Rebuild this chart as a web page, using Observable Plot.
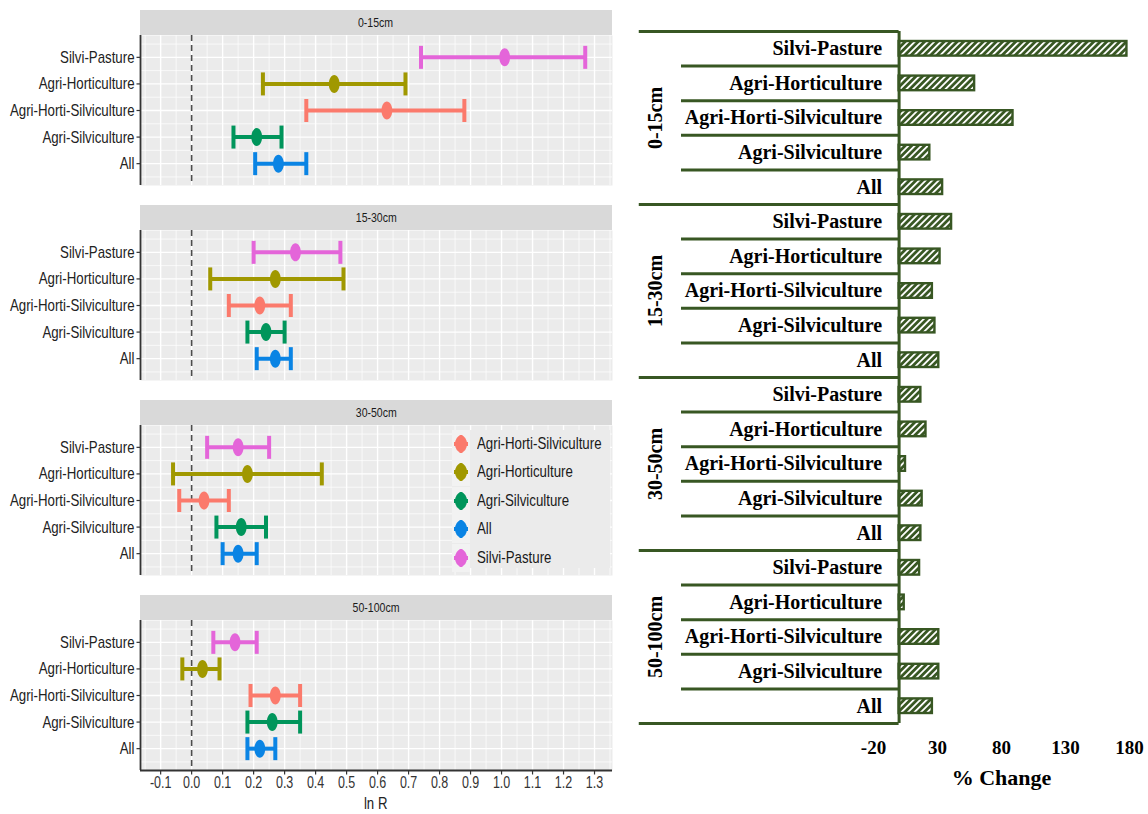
<!DOCTYPE html>
<html>
<head>
<meta charset="utf-8">
<script src="https://cdn.jsdelivr.net/npm/d3@7"></script>
<script src="https://cdn.jsdelivr.net/npm/@observablehq/plot@0.6"></script>
<style>
  body { margin: 0; background: #fff; }
  #root { position: relative; width: 1148px; height: 814px; overflow: hidden; background: #fff;
          font-family: "Liberation Sans", Arial, sans-serif; }
  .strip { position: absolute; left: 140px; width: 472px; height: 25px; background: #d9d9d9;
           color: #1a1a1a; font-size: 13.5px; text-align: center; line-height: 25px; }
  .strip span { display: inline-block; transform: scaleX(0.78); }
  .cond { display: inline-block; transform: scaleX(0.78); transform-origin: left center; }
</style>
</head>
<body>
<div id="root"></div>
<script>
// ---------------- DATA ----------------
const depths = ["0-15cm", "15-30cm", "30-50cm", "50-100cm"];
const systems = ["Silvi-Pasture", "Agri-Horticulture", "Agri-Horti-Silviculture", "Agri-Silviculture", "All"];
const legendOrder = ["Agri-Horti-Silviculture", "Agri-Horticulture", "Agri-Silviculture", "All", "Silvi-Pasture"];
const legendColors = ["#fb7a6c", "#a09800", "#00955b", "#0a84e4", "#e465d9"];

// ln R (rows: depths, columns: systems in the order above)
const lnrMean = [
  [1.01, 0.46, 0.63, 0.21, 0.28],
  [0.335, 0.27, 0.22, 0.24, 0.27],
  [0.15, 0.18, 0.04, 0.16, 0.15],
  [0.14, 0.035, 0.27, 0.26, 0.22]
];
const lnrLow = [
  [0.74, 0.23, 0.37, 0.135, 0.205],
  [0.20, 0.06, 0.12, 0.18, 0.21],
  [0.05, -0.06, -0.04, 0.08, 0.10],
  [0.07, -0.03, 0.19, 0.18, 0.18]
];
const lnrHigh = [
  [1.27, 0.69, 0.88, 0.29, 0.37],
  [0.48, 0.49, 0.32, 0.30, 0.32],
  [0.25, 0.42, 0.12, 0.24, 0.21],
  [0.21, 0.09, 0.35, 0.35, 0.27]
];
const xTicks = [-0.1, 0.0, 0.1, 0.2, 0.3, 0.4, 0.5, 0.6, 0.7, 0.8, 0.9, 1.0, 1.1, 1.2, 1.3];

// % change (rows: depths, columns: systems)
const pctChange = [
  [178, 59, 89, 24, 34],
  [41, 32, 26, 28, 31],
  [17, 21, 5, 18, 17],
  [16, 4, 31, 31, 26]
];
const pctTicks = [-20, 30, 80, 130, 180];

// ---------------- HELPERS ----------------
const root = document.getElementById("root");
function place(el, left, top) {
  el.style.position = "absolute";
  el.style.left = left + "px";
  el.style.top = top + "px";
  root.appendChild(el);
}
// narrow the glyphs of every svg text (the reference uses a condensed-looking sans)
function condense(svg, factor) {
  svg.querySelectorAll("text").forEach(t => {
    const len = t.getComputedTextLength();
    if (len > 0) {
      t.setAttribute("textLength", (len * factor).toFixed(2));
      t.setAttribute("lengthAdjust", "spacingAndGlyphs");
    }
  });
}
const vline = { draw(ctx, size) { const r = Math.sqrt(size / Math.PI); ctx.moveTo(0, -r); ctx.lineTo(0, r); } };
const hline = { draw(ctx, size) { const r = Math.sqrt(size / Math.PI); ctx.moveTo(-r, 0); ctx.lineTo(r, 0); } };
const ellipse = { draw(ctx, size) {
  const ry = Math.sqrt(size / Math.PI), rx = ry * 0.6, k = 0.5523;
  ctx.moveTo(rx, 0);
  ctx.bezierCurveTo(rx, ry * k, rx * k, ry, 0, ry);
  ctx.bezierCurveTo(-rx * k, ry, -rx, ry * k, -rx, 0);
  ctx.bezierCurveTo(-rx, -ry * k, -rx * k, -ry, 0, -ry);
  ctx.bezierCurveTo(rx * k, -ry, rx, -ry * k, rx, 0);
  ctx.closePath();
} };

// ---------------- LEFT: forest plot facets ----------------
const xDomain = [-0.165, 1.358];
const yDom = [-0.822, 4.822];
const yIdx = systems.map((s, j) => j);
const minorX = [xTicks[0] - 0.05, ...xTicks.map(t => t + 0.05)];
const minorY = [-0.5, ...yIdx.map(j => j + 0.5)];

function facet(k, last) {
  const data = systems.map((s, j) => ({ system: s, j, mean: lnrMean[k][j], lo: lnrLow[k][j], hi: lnrHigh[k][j] }));
  const mb = last ? 44 : 0;
  return Plot.plot({
    width: 612, height: 150 + mb,
    marginLeft: 140, marginRight: 0, marginTop: 0, marginBottom: mb,
    style: { fontFamily: '"Liberation Sans", Arial, sans-serif', fontSize: "16px", color: "#333",
             background: "transparent", overflow: "visible" },
    x: { domain: xDomain, axis: null },
    y: { domain: yDom, reverse: true, axis: null },
    color: { domain: legendOrder, range: legendColors },
    marks: [
      Plot.frame({ fill: "#ebebeb", stroke: "none" }),
      Plot.ruleX(minorX, { stroke: "#fff", strokeWidth: 0.7 }),
      Plot.ruleX(xTicks, { stroke: "#fff", strokeWidth: 1.4 }),
      Plot.ruleY(minorY, { stroke: "#fff", strokeWidth: 0.7 }),
      Plot.ruleY(yIdx, { stroke: "#fff", strokeWidth: 1.4 }),
      Plot.ruleX([0], { stroke: "#4d4d4d", strokeWidth: 1.6, strokeDasharray: "6,4" }),
      Plot.ruleY(data, { y: "j", x1: "lo", x2: "hi", stroke: "system", strokeWidth: 4 }),
      Plot.dot(data, { x: "lo", y: "j", symbol: vline, r: 11.5, stroke: "system", strokeWidth: 4, fill: "none" }),
      Plot.dot(data, { x: "hi", y: "j", symbol: vline, r: 11.5, stroke: "system", strokeWidth: 4, fill: "none" }),
      Plot.dot(data, { x: "mean", y: "j", symbol: ellipse, r: 9, fill: "system", stroke: "none" }),
      Plot.ruleX([xDomain[0]], { stroke: "#333", strokeWidth: 1.8 }),
      last ? Plot.ruleY([yDom[1]], { stroke: "#333", strokeWidth: 1.8 }) : null,
      last ? Plot.dot(xTicks, { x: d => d, frameAnchor: "bottom", symbol: vline, r: 2, dy: 2, stroke: "#333", strokeWidth: 1.2 }) : null,
      last ? Plot.text(xTicks, { x: d => d, frameAnchor: "bottom", dy: 6, lineAnchor: "top", text: d => d.toFixed(1),
                                 fontSize: 16, fill: "#333" }) : null,
      Plot.dot(data, { frameAnchor: "left", y: "j", symbol: hline, r: 2, dx: -2, stroke: "#333", strokeWidth: 1.2 }),
      Plot.text(data, { frameAnchor: "left", y: "j", text: "system", textAnchor: "end", dx: -6,
                        fontSize: 17, fill: "#222" })
    ]
  });
}

depths.forEach((d, k) => {
  const top = 10 + k * 195;
  const strip = document.createElement("div");
  strip.className = "strip";
  strip.style.top = top + "px";
  strip.innerHTML = `<span>${d}</span>`;
  root.appendChild(strip);
  const svg = facet(k, k === depths.length - 1);
  place(svg, 0, top + 25);
  condense(svg, 0.78);
});

const lnR = document.createElement("div");
lnR.innerHTML = '<span style="display:inline-block;transform:scaleX(0.8)">ln R</span>';
lnR.style.cssText = "width:472px;text-align:center;font-size:16.5px;color:#222;";
place(lnR, 140, 794);

// legend (inside the 30-50cm panel)
const legend = document.createElement("div");
legend.style.cssText = "width:158px;height:138px;background:#ebebeb;";
place(legend, 452, 430);
legendOrder.forEach((name, i) => {
  const row = document.createElement("div");
  row.style.cssText = `position:absolute;left:0;top:${i * 28.4}px;height:28px;display:flex;align-items:center;white-space:nowrap;`;
  const c = legendColors[i];
  row.innerHTML = `<svg width="18" height="28" style="background:#f2f2f2"><line x1="2" x2="16" y1="14" y2="14" stroke="${c}" stroke-width="4"/><line x1="9" x2="9" y1="5" y2="23" stroke="${c}" stroke-width="3"/><ellipse cx="9" cy="14" rx="6" ry="8.5" fill="${c}"/></svg><span class="cond" style="margin-left:7px;font-size:17px;color:#1a1a1a;">${name}</span>`;
  legend.appendChild(row);
});

// ---------------- RIGHT: % change bars ----------------
const green = "#385723";
const rows = [];
depths.forEach((d, g) => systems.forEach((s, j) => rows.push({ depth: d, system: s, i: g * 5 + j, value: pctChange[g][j] })));
const groupLines = [0, 5, 10, 15, 20];
const innerLines = rows.filter(r => r.i % 5 !== 0).map(r => r.i);

const right = Plot.plot({
  width: 518, height: 814,
  marginLeft: 243, marginRight: 19, marginTop: 31, marginBottom: 91,
  x: { domain: [-20, 180], axis: null },
  y: { domain: [0, 20], reverse: true, axis: null },
  style: { fontFamily: '"Liberation Serif", "Times New Roman", serif', fontWeight: "bold", color: "#000",
           background: "transparent", overflow: "visible" },
  marks: [
    Plot.rectX(rows, { x1: 0, x2: "value", y1: "i", y2: d => d.i + 1, insetTop: 10, insetBottom: 10,
                       fill: "url(#hatch)", stroke: green, strokeWidth: 2.4 }),
    Plot.ruleY(innerLines, { x1: -170, x2: 0, stroke: green, strokeWidth: 3 }),
    Plot.ruleY(groupLines, { x1: -203, x2: 0, stroke: green, strokeWidth: 3 }),
    Plot.ruleX([0], { y1: 0, y2: 20, stroke: green, strokeWidth: 3 }),
    Plot.text(rows, { x: 0, y: d => d.i + 0.5, text: "system", textAnchor: "end", dx: -17,
                      fontSize: 20, fontWeight: "bold", fill: "#000" }),
    Plot.text(depths, { x: -190.6, y: (d, g) => g * 5 + 2.5, rotate: -90, text: d => d,
                        fontSize: 20, fontWeight: "bold", fill: "#000" }),
    Plot.text(pctTicks, { x: d => d, frameAnchor: "bottom", dy: 30, text: d => String(d),
                          fontSize: 19, fontWeight: "bold", fill: "#000" }),
    Plot.text(["% Change"], { frameAnchor: "bottom", dy: 61, text: d => d,
                              fontSize: 22, fontWeight: "bold", fill: "#000" })
  ]
});
const rsvg = d3.select(right);
const defs = rsvg.insert("defs", ":first-child");
const pat = defs.append("pattern").attr("id", "hatch").attr("width", 4.6).attr("height", 4.6)
  .attr("patternUnits", "userSpaceOnUse").attr("patternTransform", "rotate(45)");
pat.append("rect").attr("width", 4.6).attr("height", 4.6).attr("fill", green);
pat.append("rect").attr("width", 1.8).attr("height", 4.6).attr("fill", "#fff");
place(right, 630, 0);
</script>
</body>
</html>
